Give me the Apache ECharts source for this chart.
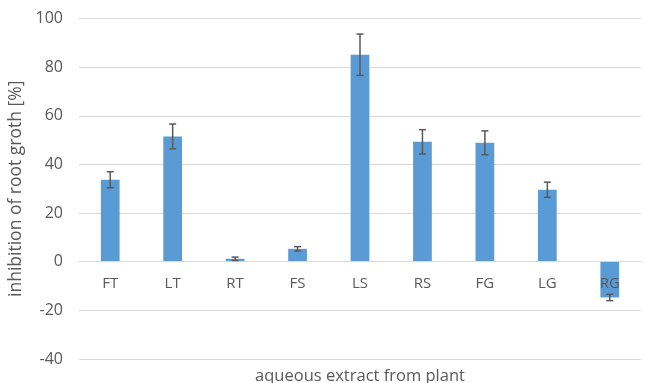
<!DOCTYPE html>
<html>
<head>
<meta charset="utf-8">
<script src="https://cdn.jsdelivr.net/npm/echarts@6/dist/echarts.min.js"></script>
<style>html,body{margin:0;padding:0;background:#fff}#c{width:645px;height:383px}</style>
</head>
<body>
<div id="c"></div>
<script>
var categories = ['FT','LT','RT','FS','LS','RS','FG','LG','RG'];
var values = [33.7, 51.5, 1.2, 5.3, 85.1, 49.3, 48.9, 29.6, -14.7];
var errors = [3.3, 5.1, 0.7, 0.9, 8.5, 5.0, 4.9, 3.1, 1.3];
var yTicks = [-40, -20, 0, 20, 40, 60, 80, 100];

var textColor = '#595959';
var font = 'Open Sans';
var chart = echarts.init(document.getElementById('c'), null, {renderer: 'canvas'});
var errData = categories.map(function (c, i) {
  return [i, values[i] - errors[i], values[i] + errors[i]];
});
var gridTop = 18.5, gridBottom = 24, H = 383;
var yMin = yTicks[0], yMax = yTicks[yTicks.length - 1];
var plotH = H - gridTop - gridBottom;
var zeroOffset = -plotH * (0 - yMin) / (yMax - yMin);
chart.setOption({
  animation: false,
  grid: {left: 79, right: 4, top: gridTop, bottom: gridBottom, containLabel: false, outerBoundsMode: 'none'},
  xAxis: {
    type: 'category',
    data: categories,
    offset: zeroOffset,
    name: 'aqueous extract from plant',
    nameLocation: 'middle',
    nameGap: 106,
    nameTextStyle: {color: textColor, fontFamily: font, fontSize: 16.5},
    axisLine: {show: true, onZero: false, lineStyle: {color: '#d9d9d9'}},
    axisTick: {show: false},
    axisLabel: {color: textColor, fontFamily: font, fontSize: 15, margin: 15},
    z: 5
  },
  yAxis: {
    type: 'value',
    min: yMin,
    max: yMax,
    interval: 20,
    name: 'inhibition of root groth [%]',
    nameLocation: 'middle',
    nameGap: 47,
    nameTextStyle: {color: textColor, fontFamily: font, fontSize: 17.5},
    axisLine: {show: false},
    axisTick: {show: false},
    axisLabel: {color: textColor, fontFamily: font, fontSize: 16, margin: 16},
    splitLine: {lineStyle: {color: '#d9d9d9', width: 1}}
  },
  series: [
    {
      type: 'bar',
      data: values,
      barWidth: '30%',
      itemStyle: {color: '#5b9bd5'},
      z: 2
    },
    {
      type: 'custom',
      data: errData,
      z: 10,
      renderItem: function (params, api) {
        var x = api.value(0);
        var lo = api.coord([x, api.value(1)]);
        var hi = api.coord([x, api.value(2)]);
        var hw = 3.5;
        var style = {stroke: '#595959', lineWidth: 1.5};
        return {
          type: 'group',
          children: [
            {type: 'line', shape: {x1: hi[0], y1: hi[1], x2: lo[0], y2: lo[1]}, style: style},
            {type: 'line', shape: {x1: hi[0] - hw, y1: hi[1], x2: hi[0] + hw, y2: hi[1]}, style: style},
            {type: 'line', shape: {x1: lo[0] - hw, y1: lo[1], x2: lo[0] + hw, y2: lo[1]}, style: style}
          ]
        };
      }
    }
  ]
});
</script>
</body>
</html>
